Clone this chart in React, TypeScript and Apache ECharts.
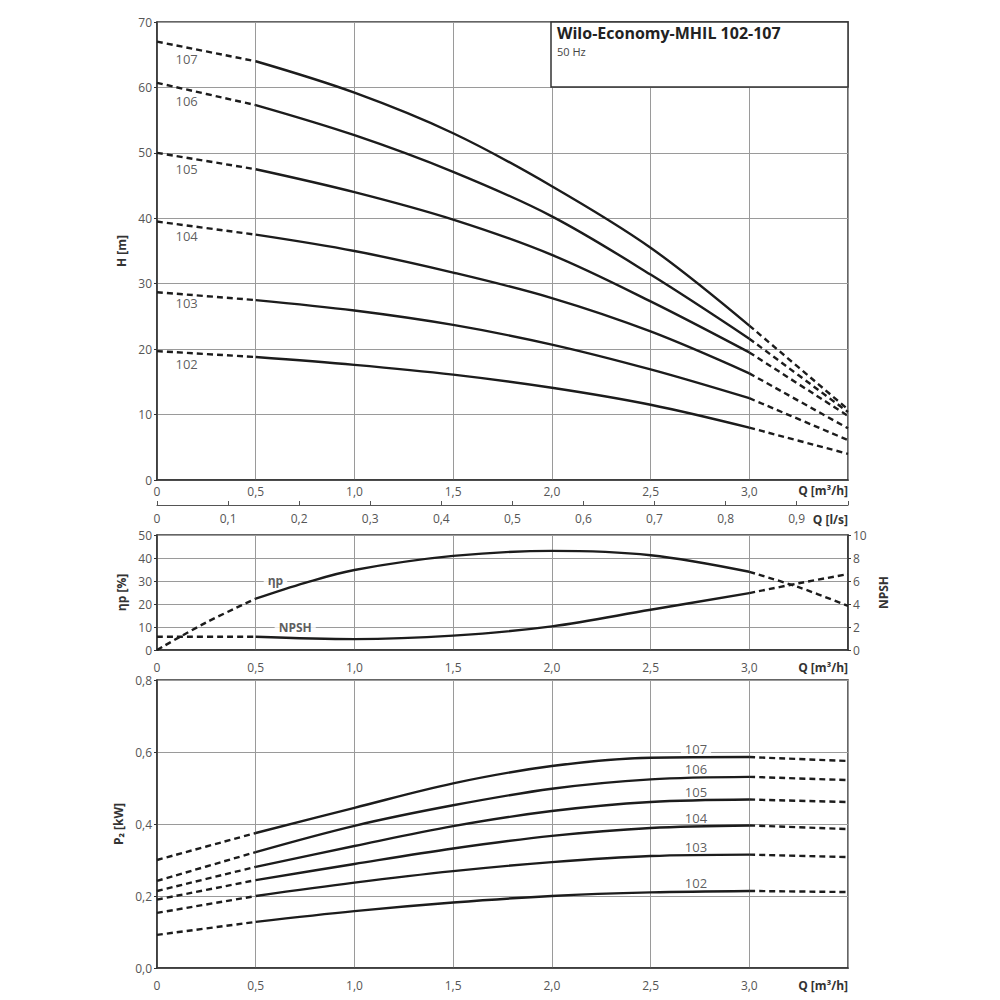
import React, { useEffect, useRef } from "react";
import * as echarts from "echarts";

// Flow rate Q [m³/h] sample points for H and P2 curves
const Q = [0, 0.5, 1.0, 1.5, 2.0, 2.5, 3.0, 3.5];

// Head H [m]
const H107 = [67.0, 64.0, 59.2, 53.0, 44.9, 35.5, 23.6, 10.8];
const H106 = [60.7, 57.3, 52.7, 47.1, 40.3, 31.4, 21.6, 10.4];
const H105 = [50.0, 47.5, 44.0, 39.8, 34.4, 27.3, 19.5, 9.8];
const H104 = [39.5, 37.5, 35.0, 31.7, 27.8, 22.7, 16.3, 7.9];
const H103 = [28.7, 27.5, 25.9, 23.7, 20.7, 16.9, 12.5, 6.1];
const H102 = [19.7, 18.8, 17.6, 16.1, 14.1, 11.5, 8.0, 4.0];

// Efficiency ηp [%]
const ETA_Q = [0, 0.25, 0.5, 0.75, 1.0, 1.5, 2.0, 2.5, 3.0, 3.25, 3.5];
const ETA = [0, 12, 22.3, 29.2, 34.8, 40.9, 43.1, 41.2, 34.0, 27.3, 19.2];

// NPSH [m]
const NPSH_Q = [0, 0.5, 1.0, 1.5, 2.0, 2.5, 3.0, 3.25, 3.5];
const NPSH = [1.15, 1.15, 0.95, 1.25, 2.05, 3.5, 4.95, 5.8, 6.6];

// Power P2 [kW]
const P107 = [0.300, 0.375, 0.445, 0.513, 0.561, 0.584, 0.586, 0.575];
const P106 = [0.242, 0.322, 0.395, 0.452, 0.498, 0.524, 0.531, 0.522];
const P105 = [0.214, 0.281, 0.339, 0.394, 0.436, 0.461, 0.468, 0.461];
const P104 = [0.190, 0.244, 0.289, 0.332, 0.367, 0.389, 0.396, 0.386];
const P103 = [0.153, 0.200, 0.237, 0.269, 0.294, 0.311, 0.315, 0.308];
const P102 = [0.092, 0.128, 0.158, 0.182, 0.200, 0.210, 0.214, 0.211];

const PUMPS = ["107", "106", "105", "104", "103", "102"];
const H_CURVES = [H107, H106, H105, H104, H103, H102];
const P_CURVES = [P107, P106, P105, P104, P103, P102];

// Label anchor points (data coordinates)
const H_LABEL_Q = 0.15;
const H_LABEL_V = [64.4, 58.0, 47.6, 37.3, 27.1, 17.8];
const P_LABEL_Q = 2.73;
const P_LABEL_V = [0.608, 0.553, 0.489, 0.417, 0.336, 0.236];

const Q_MAX = 3.5;
const LS_MAX = 3.5 / 3.6;

const FONT = '"Open Sans", "Noto Sans", sans-serif';
const INK = "#1c1c1c";
const GRIDC = "#9a9a9a";
const LABELC = "#555";

const fmtQ = (v: number) => {
  if (Math.abs(v - Q_MAX) < 1e-6) return "";
  return v === 0 ? "0" : v.toFixed(1).replace(".", ",");
};
const fmtLs = (v: number) => {
  if (v > 0.95) return "";
  return v === 0 ? "0" : v.toFixed(1).replace(".", ",");
};

function segments(qs: number[], vs: number[], xAxisIndex: number, yAxisIndex: number, name: string) {
  const pts = qs.map((q, i) => [q, vs[i]]);
  const left = pts.filter((p) => p[0] <= 0.5 + 1e-9);
  const mid = pts.filter((p) => p[0] >= 0.5 - 1e-9 && p[0] <= 3.0 + 1e-9);
  const right = pts.filter((p) => p[0] >= 3.0 - 1e-9);
  const base = {
    type: "line",
    xAxisIndex,
    yAxisIndex,
    showSymbol: false,
    symbol: "none",
    smooth: 0.35,
    silent: true,
    z: 3,
  };
  return [
    { ...base, name: name + "-a", data: left, lineStyle: { color: INK, width: 2.4, type: [6, 4] } },
    { ...base, name: name, data: mid, lineStyle: { color: INK, width: 2.4, type: "solid" } },
    { ...base, name: name + "-b", data: right, lineStyle: { color: INK, width: 2.4, type: [6, 4] } },
  ];
}

function labelSeries(
  xAxisIndex: number,
  yAxisIndex: number,
  items: [number, number, string][],
  fontSize: number,
  bold: boolean,
  bg?: string
) {
  return {
    type: "scatter",
    xAxisIndex,
    yAxisIndex,
    symbolSize: 0,
    silent: true,
    z: 5,
    data: items.map((d) => ({ value: d })),
    label: {
      show: true,
      position: "inside",
      formatter: (p: any) => p.value[2],
      color: "#333",
      fontSize,
      fontWeight: bold ? "bold" : "normal",
      fontFamily: FONT,
      backgroundColor: bg || "transparent",
      padding: bg ? [0, 4] : 0,
    },
  };
}

export default function App() {
  const ref = useRef<HTMLDivElement>(null);

  useEffect(() => {
    if (!ref.current) return;
    const chart = echarts.init(ref.current, undefined, { renderer: "svg" });

    const split = { show: true, lineStyle: { color: GRIDC, width: 1 } };
    const axLine = { show: true, onZero: false, lineStyle: { color: "#333", width: 1.5 } };
    const axLabel = { color: LABELC, fontSize: 12, fontFamily: FONT };
    const yName = { color: "#333", fontSize: 12, fontWeight: "bold", fontFamily: FONT };

    const series: any[] = [];
    H_CURVES.forEach((c, i) => series.push(...segments(Q, c, 0, 0, "H" + PUMPS[i])));
    series.push(...segments(ETA_Q, ETA, 2, 1, "eta"));
    series.push(...segments(NPSH_Q, NPSH, 2, 2, "npsh"));
    P_CURVES.forEach((c, i) => series.push(...segments(Q, c, 3, 3, "P" + PUMPS[i])));

    series.push(
      labelSeries(0, 0, PUMPS.map((p, i) => [H_LABEL_Q, H_LABEL_V[i], p] as [number, number, string]), 13, false)
    );
    series.push(labelSeries(2, 1, [[0.6, 30.4, "ηp"]], 12, true, "#fff"));
    series.push(labelSeries(2, 1, [[0.7, 9.8, "NPSH"]], 12, true, "#fff"));
    series.push(
      labelSeries(3, 3, [[P_LABEL_Q, P_LABEL_V[0], PUMPS[0]]], 13, false, "#fff")
    );
    series.push(
      labelSeries(
        3,
        3,
        PUMPS.slice(1).map((p, i) => [P_LABEL_Q, P_LABEL_V[i + 1], p] as [number, number, string]),
        13,
        false
      )
    );

    const qAxis = (gridIndex: number, margin: number) => ({
      type: "value",
      gridIndex,
      min: 0,
      max: Q_MAX,
      interval: 0.5,
      position: "bottom",
      axisLine: axLine,
      axisTick: { show: false },
      splitLine: split,
      axisLabel: { ...axLabel, margin, formatter: fmtQ, showMaxLabel: true, showMinLabel: true },
    });

    const option: any = {
      animation: false,
      textStyle: { fontFamily: FONT },
      grid: [
        { left: 157, top: 22, width: 691, height: 458, show: true, borderColor: "#333", borderWidth: 1.5, backgroundColor: "transparent" },
        { left: 157, top: 535, width: 691, height: 115, show: true, borderColor: "#333", borderWidth: 1.5, backgroundColor: "transparent" },
        { left: 157, top: 680, width: 691, height: 288, show: true, borderColor: "#333", borderWidth: 1.5, backgroundColor: "transparent" },
      ],
      xAxis: [
        qAxis(0, 5),
        {
          type: "value",
          gridIndex: 0,
          min: 0,
          max: LS_MAX,
          interval: 0.1,
          position: "bottom",
          offset: 25,
          axisLine: { show: true, onZero: false, lineStyle: { color: "#555", width: 1.2 } },
          axisTick: { show: true, inside: true, length: 4, lineStyle: { color: "#555" } },
          splitLine: { show: false },
          axisLabel: { ...axLabel, margin: 7, formatter: fmtLs },
        },
        qAxis(1, 11),
        qAxis(2, 11),
      ],
      yAxis: [
        {
          type: "value",
          gridIndex: 0,
          min: 0,
          max: 70,
          interval: 10,
          name: "H [m]",
          nameLocation: "middle",
          nameRotate: 90,
          nameGap: 28,
          nameTextStyle: yName,
          axisLine: axLine,
          axisTick: { show: true, length: 3, lineStyle: { color: "#333" } },
          splitLine: split,
          axisLabel: { ...axLabel, margin: 5 },
        },
        {
          type: "value",
          gridIndex: 1,
          min: 0,
          max: 50,
          interval: 10,
          name: "ηp [%]",
          nameLocation: "middle",
          nameRotate: 90,
          nameGap: 28,
          nameTextStyle: yName,
          axisLine: axLine,
          axisTick: { show: true, length: 3, lineStyle: { color: "#333" } },
          splitLine: split,
          axisLabel: { ...axLabel, margin: 5 },
        },
        {
          type: "value",
          gridIndex: 1,
          position: "right",
          min: 0,
          max: 10,
          interval: 2,
          name: "NPSH",
          nameLocation: "middle",
          nameRotate: 90,
          nameGap: 24,
          nameTextStyle: yName,
          axisLine: axLine,
          axisTick: { show: true, length: 3, lineStyle: { color: "#333" } },
          splitLine: { show: false },
          axisLabel: { ...axLabel, margin: 5 },
        },
        {
          type: "value",
          gridIndex: 2,
          min: 0,
          max: 0.8,
          interval: 0.2,
          name: "P₂ [kW]",
          nameLocation: "middle",
          nameRotate: 90,
          nameGap: 28,
          nameTextStyle: yName,
          axisLine: axLine,
          axisTick: { show: true, length: 3, lineStyle: { color: "#333" } },
          splitLine: split,
          axisLabel: { ...axLabel, margin: 5, formatter: (v: number) => v.toFixed(1).replace(".", ",") },
        },
      ],
      series,
      graphic: [
        {
          type: "rect",
          z: 100,
          shape: { x: 551, y: 22, width: 297, height: 65 },
          style: { fill: "#fff", stroke: "#333", lineWidth: 1.5 },
        },
        {
          type: "text",
          z: 101,
          x: 557,
          y: 25,
          style: { text: "Wilo-Economy-MHIL 102-107", fill: "#222", font: `bold 16px ${FONT}` },
        },
        {
          type: "text",
          z: 101,
          x: 557,
          y: 46,
          style: { text: "50 Hz", fill: "#444", font: `11px ${FONT}` },
        },
        ...[490, 667, 985].map((y) => ({
          type: "text",
          z: 101,
          x: 848,
          y,
          style: { text: "Q [m³/h]", fill: "#333", font: `bold 12px ${FONT}`, align: "right", verticalAlign: "middle" },
        })),
        {
          type: "text",
          z: 101,
          x: 848,
          y: 519,
          style: { text: "Q [l/s]", fill: "#333", font: `bold 12px ${FONT}`, align: "right", verticalAlign: "middle" },
        },
      ],
    };

    chart.setOption(option);
    return () => chart.dispose();
  }, []);

  return (
    <div
      ref={ref}
      style={{ position: "fixed", left: 0, top: 0, width: 1000, height: 1000, background: "#fff" }}
    />
  );
}
